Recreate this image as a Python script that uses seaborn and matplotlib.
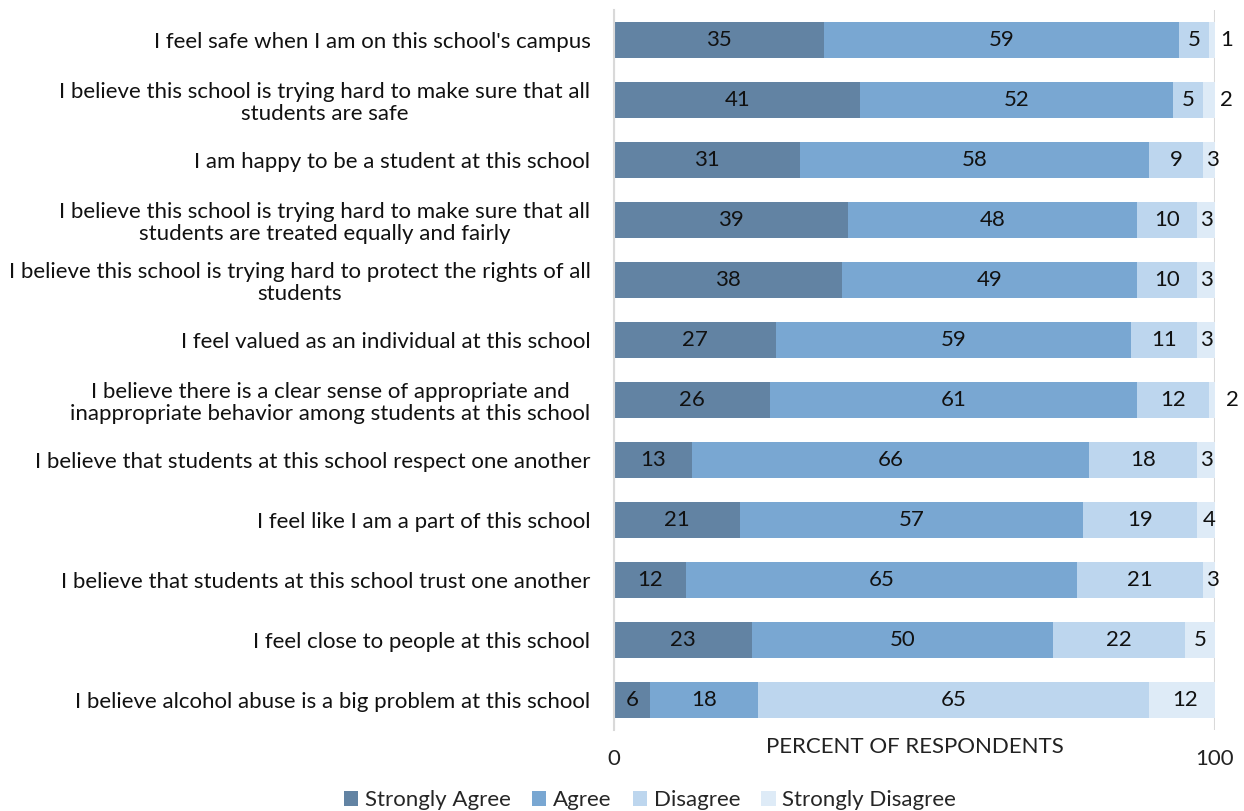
import matplotlib
matplotlib.use("Agg")
import matplotlib.pyplot as plt
from matplotlib.patches import Patch
import numpy as np
import pandas as pd
import seaborn as sns

statements = [
    "I feel safe when I am on this school's campus",
    "I believe this school is trying hard to make sure that all\nstudents are safe",
    "I am happy to be a student at this school",
    "I believe this school is trying hard to make sure that all\nstudents are treated equally and fairly",
    "I believe this school is trying hard to protect the rights of all\nstudents",
    "I feel valued as an individual at this school",
    "I believe there is a clear sense of appropriate and\ninappropriate behavior among students at this school",
    "I believe that students at this school respect one another",
    "I feel like I am a part of this school",
    "I believe that students at this school trust one another",
    "I feel close to people at this school",
    "I believe alcohol abuse is a big problem at this school",
]
strongly_agree = [35, 41, 31, 39, 38, 27, 26, 13, 21, 12, 23, 6]
agree = [59, 52, 58, 48, 49, 59, 61, 66, 57, 65, 50, 18]
disagree = [5, 5, 9, 10, 10, 11, 12, 18, 19, 21, 22, 65]
strongly_disagree = [1, 2, 3, 3, 3, 3, 2, 3, 4, 3, 5, 12]

series_names = ["Strongly Agree", "Agree", "Disagree", "Strongly Disagree"]
series_values = [strongly_agree, agree, disagree, strongly_disagree]
colors = ["#6283A3", "#79A7D2", "#BDD6EE", "#DEEBF7"]
x_ticks = [0, 100]
x_label = "PERCENT OF RESPONDENTS"

sns.set_theme(style="white")
plt.rcParams["font.family"] = ["Lato", "DejaVu Sans"]

df = pd.DataFrame({"statement": statements})
for name, vals in zip(series_names, series_values):
    df[name] = vals
cum = df[series_names].cumsum(axis=1)

fig = plt.figure(figsize=(12.44, 8.11), dpi=100)
ax = fig.add_axes([614 / 1244, 1 - 730 / 811, (1215 - 614) / 1244, (730 - 10) / 811])

# Stacked bars: draw cumulative totals from the outermost segment inward
for name, color in reversed(list(zip(series_names, colors))):
    sns.barplot(data=cum.assign(statement=statements), x=name, y="statement",
                orient="h", color=color, width=0.6, saturation=1,
                edgecolor="none", linewidth=0, ax=ax)

fs = 16
for i in range(len(statements)):
    left = 0
    for name in series_names:
        v = df.loc[i, name]
        if v >= 3:
            ax.text(left + v / 2, i, str(v), ha="center", va="center",
                    fontsize=fs, color="#111111")
        else:
            ax.text(left + v + 0.9, i, str(v), ha="left", va="center",
                    fontsize=fs, color="#111111")
        left += v

ax.set_xlim(0, 100)
ax.set_ylim(len(statements) - 0.5, -0.5)
ax.set_xticks(x_ticks)
ax.set_xticklabels([str(t) for t in x_ticks], fontsize=fs, color="#222222")
ax.tick_params(axis="x", length=0, pad=14)
ax.tick_params(axis="y", length=0, pad=17, labelsize=fs, labelcolor="#111111")
for lbl in ax.get_yticklabels():
    lbl.set_multialignment("center")
    lbl.set_linespacing(1.15)
ax.set_xlabel("")
ax.set_ylabel("")
ax.xaxis.grid(True, color="#D9D9D9", linewidth=1.5)
ax.set_axisbelow(True)
for s in ax.spines.values():
    s.set_visible(False)
ax.spines["left"].set_visible(True)
ax.spines["left"].set_color("#D9D9D9")
ax.spines["left"].set_linewidth(1.5)

fig.text(915 / 1244, 1 - 747 / 811, x_label, ha="center", va="center",
         fontsize=fs, color="#222222")

handles = [Patch(facecolor=c, edgecolor="none") for c in colors]
fig.legend(handles, series_names, loc="center", bbox_to_anchor=(650 / 1244, 1 - 800 / 811),
           ncol=4, frameon=False, fontsize=fs, handlelength=0.65, handleheight=0.65,
           handletextpad=0.3, columnspacing=0.95)

fig.savefig("out.png", dpi=100)
